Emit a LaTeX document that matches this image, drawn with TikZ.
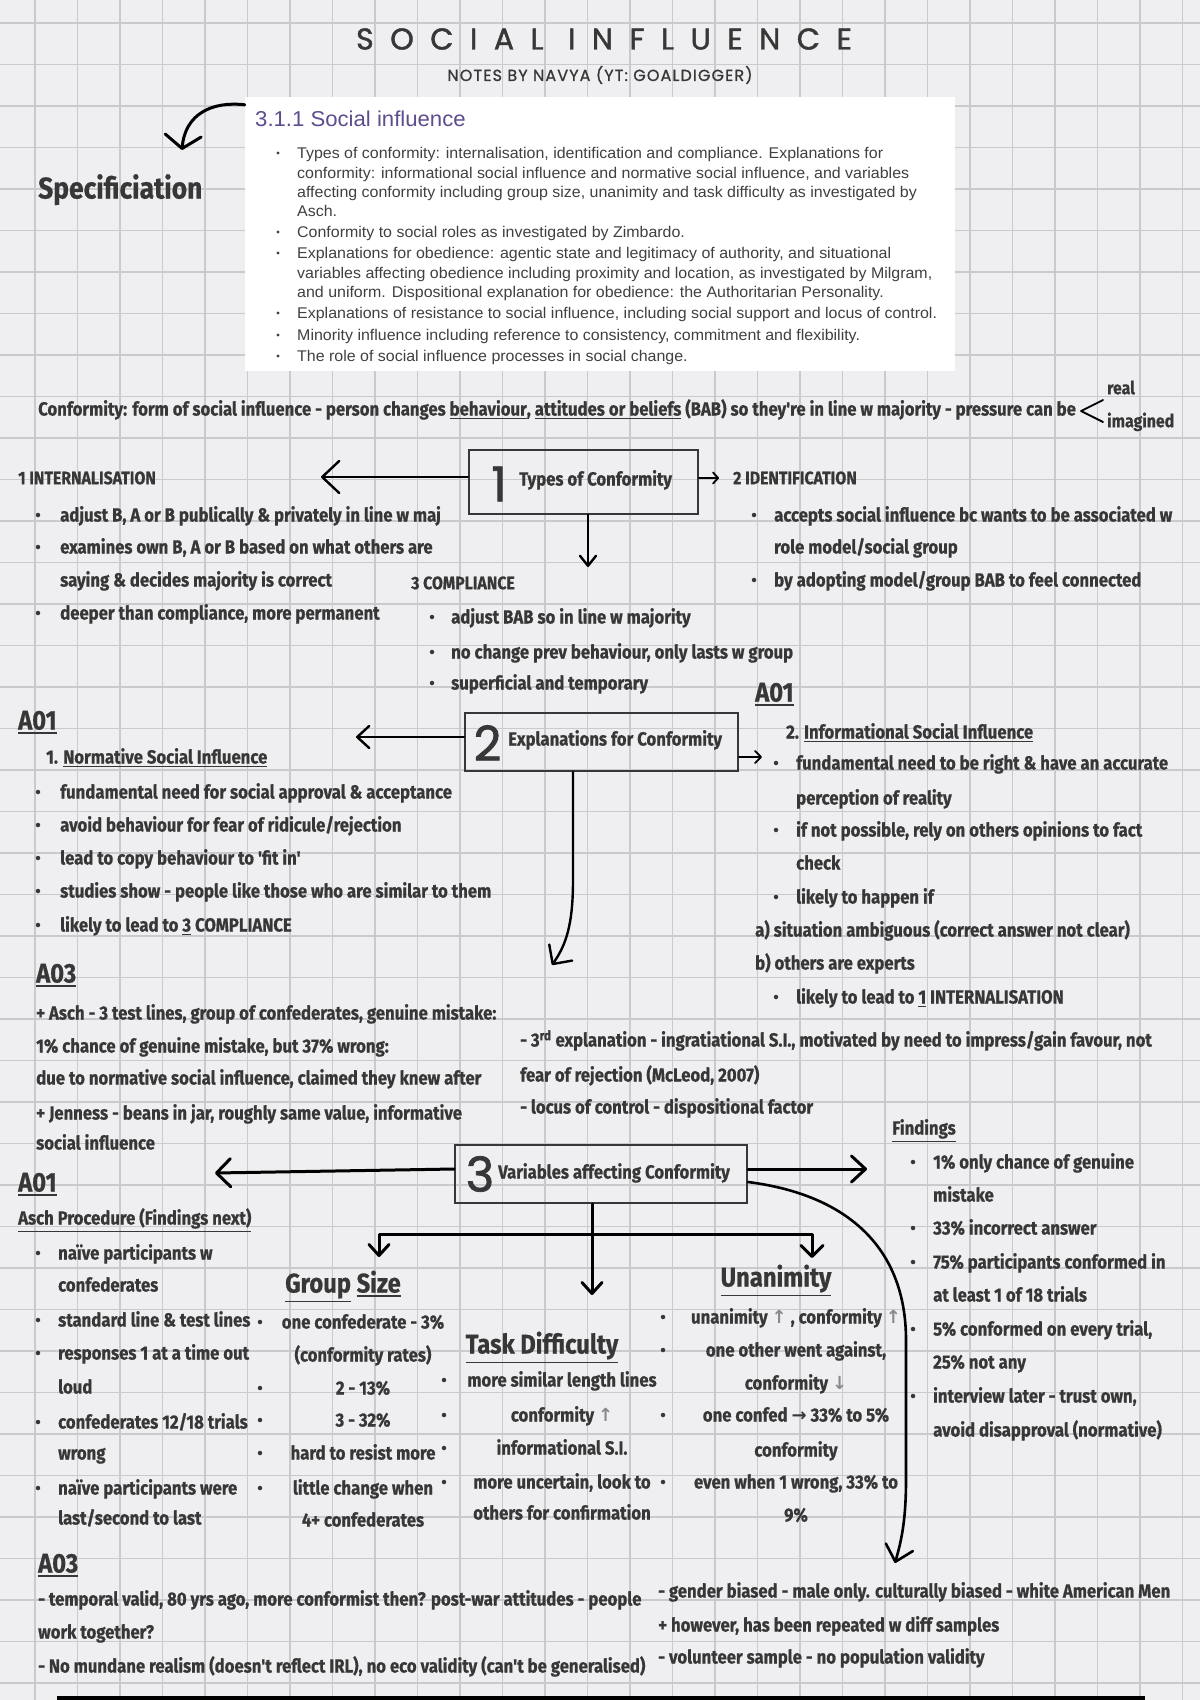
\documentclass[tikz,border=0pt]{standalone}
\usepackage{fontspec}
\usetikzlibrary{
    positioning,
    arrows.meta
}

\newfontfamily\hand[FakeStretch=0.88, FakeBold=0.6]{Fira Sans}
\newfontfamily\titlefont[LetterSpace=55, FakeBold=1.4]{Poppins}
\newfontfamily\subfont[LetterSpace=7, FakeBold=1]{Poppins}
\newfontfamily\numfont[FakeBold=1.6]{Poppins}
\newfontfamily\specfont[FakeStretch=1.03]{Liberation Sans}
\newfontfamily\symfont{DejaVu Sans}

\definecolor{paper}{HTML}{EFEFF1}
\definecolor{gridc}{HTML}{C9C9CE}
\definecolor{ink}{HTML}{373737}
\definecolor{spectext}{HTML}{404040}
\definecolor{specpurple}{HTML}{5E4C8E}
\definecolor{arrowgray}{HTML}{8A8A8A}

\newcommand\uln[1]{\vtop{\hbox{#1}\kern2pt\hrule height 1.6pt}}
\newcommand\uparr{{\symfont\fontsize{18}{18}\selectfont\textcolor{arrowgray}{↑}}}
\newcommand\dnarr{{\symfont\fontsize{18}{18}\selectfont\textcolor{arrowgray}{↓}}}
\newcommand\rtarr{{\symfont\fontsize{18}{18}\selectfont →}}

\tikzset{
    gridline/.style={draw=gridc, line width=1.4pt},
    txt/.style={text=ink, inner sep=0pt, anchor=base west},
    hand/.style={txt, font=\hand\bfseries\fontsize{19}{19}\selectfont, yshift=-6.5pt},
    handc/.style={hand, anchor=base},
    handsm/.style={txt, font=\hand\bfseries\fontsize{18}{18}\selectfont, yshift=-6.2pt},
    aohead/.style={txt, font=\hand\bfseries\fontsize{27}{27}\selectfont, yshift=-9.5pt},
    headhand/.style={txt, anchor=base, font=\hand\bfseries\fontsize{27}{27}\selectfont, yshift=-9.5pt},
    dot/.style={circle, fill=ink, inner sep=0pt, minimum size=4.5pt},
    spec/.style={
        font=\specfont\fontsize{15.5}{15.5}\selectfont,
        text=spectext, inner sep=0pt, anchor=base west, yshift=-5.3pt
    },
    specdot/.style={circle, fill=spectext, inner sep=0pt, minimum size=3.2pt},
    typebox/.style={draw=ink, line width=2pt, inner sep=0pt},
    bignum/.style={font=\numfont\fontsize{48}{48}\selectfont, text=ink, inner sep=0pt},
    conn/.style={draw=black, line width=2.4pt, line cap=round, line join=round}
}

\begin{document}
\begin{tikzpicture}[
    x=1pt, y=-1pt
]

    % Papel cuadriculado
    \useasboundingbox (0,0) rectangle (1200,1700);
    \fill[paper] (0,0) rectangle (1200,1700);
    \foreach \i in {0,...,27}
        \draw[gridline] ({35+42.5*\i},0) -- ++(0,1700);
    \foreach \j in {0,...,40}
        \draw[gridline] (0,{23+41.5*\j}) -- ++(1200,0);

    % Titulo
    \node[font=\titlefont\fontsize{30}{30}\selectfont, text=ink] (title) at (604,39) {SOCIAL INFLUENCE};
    \node[font=\subfont\fontsize{16}{16}\selectfont, text=ink] (subtitle) at (600,75) {NOTES BY NAVYA (YT: GOALDIGGER)};

    % Especificacion
    \node[fill=white, minimum width=710pt, minimum height=274pt, inner sep=0pt] (specbox) at (600,234) {};
    \node[txt, font=\specfont\fontsize{21.5}{21.5}\selectfont, text=specpurple, yshift=-7.5pt] (spechead) at (255,119) {3.1.1 Social influence};
    \foreach \y/\bu/\txt [count=\i] in {
        153/1/{Types of conformity: internalisation, identification and compliance. Explanations for},
        173/0/{conformity: informational social influence and normative social influence, and variables},
        192/0/{affecting conformity including group size, unanimity and task difficulty as investigated by},
        211/0/{Asch.},
        232/1/{Conformity to social roles as investigated by Zimbardo.},
        253/1/{Explanations for obedience: agentic state and legitimacy of authority, and situational},
        273/0/{variables affecting obedience including proximity and location, as investigated by Milgram,},
        292/0/{and uniform. Dispositional explanation for obedience: the Authoritarian Personality.},
        313/1/{Explanations of resistance to social influence, including social support and locus of control.},
        335/1/{Minority influence including reference to consistency, commitment and flexibility.},
        356/1/{The role of social influence processes in social change.}
    }{
        \node[spec] (spec-\i) at (297,\y) {\txt};
        \ifnum\bu=1 \node[specdot] (spec-dot-\i) at (278,\y) {}; \fi
    }

    \node[txt, font=\hand\bfseries\fontsize{30}{30}\selectfont, yshift=-10.5pt] (specword) at (38,188) {Specificiation};
    \coordinate (spec-tip) at (182,150);
    \draw[conn, line width=3pt, -{Straight Barb[length=13pt, width=36pt, round]}]
        ([yshift=-8pt]specbox.north west) .. controls (212,101) and (185,114) .. (spec-tip);

    % Definicion
    \node[hand] (conf) at (38,409) {Conformity: form of social influence - person changes \uln{behaviour}, \uln{attitudes or beliefs} (BAB) so they're in line w majority - pressure can be};
    \draw[conn, line width=1.8pt] (1103,400) -- (1081,411) -- (1103,422);
    \node[handsm] (real) at (1107,388) {real};
    \node[handsm] (imag) at (1107,421) {imagined};

    % 1 Tipos de conformidad
    \node[typebox, minimum width=229pt, minimum height=64pt] (box1) at (583.5,482) {};
    \node[bignum] (num1) at (499,484) {1};
    \node[hand] (lab1) at (519,479) {Types of Conformity};
    \coordinate (t1-left) at (321,477);
    \coordinate (t1-right) at (719,478);
    \coordinate (t1-down) at (588,567);
    \draw[conn, -{Straight Barb[length=17pt, width=32pt, round]}] ([yshift=5pt]box1.west) -- (t1-left);
    \draw[conn, line width=1.8pt, -{Straight Barb[length=5pt, width=11pt, round]}] ([yshift=4pt]box1.east) -- (t1-right);
    \draw[conn, -{Straight Barb[length=10pt, width=16pt, round]}] (box1.south -| t1-down) -- (t1-down);

    \node[handsm] (intl) at (18,478) {1 INTERNALISATION};
    \foreach \y/\bu/\txt [count=\i] in {
        515/1/{adjust B, A or B publically \& privately in line w maj},
        547/1/{examines own B, A or B based on what others are},
        580/0/{saying \& decides majority is correct},
        613/1/{deeper than compliance, more permanent}
    }{
        \node[hand] (intl-\i) at (60,\y) {\txt};
        \ifnum\bu=1 \node[dot] (intl-dot-\i) at (38,\y) {}; \fi
    }

    \node[handsm] (ident) at (733,478) {2 IDENTIFICATION};
    \foreach \y/\bu/\txt [count=\i] in {
        515/1/{accepts social influence bc wants to be associated w},
        547/0/{role model/social group},
        580/1/{by adopting model/group BAB to feel connected}
    }{
        \node[hand] (ident-\i) at (774,\y) {\txt};
        \ifnum\bu=1 \node[dot] (ident-dot-\i) at (754,\y) {}; \fi
    }

    \node[handsm] (compl) at (411,583) {3 COMPLIANCE};
    \foreach \y/\txt [count=\i] in {
        617/{adjust BAB so in line w majority},
        652/{no change prev behaviour, only lasts w group},
        683/{superficial and temporary}
    }{
        \node[hand] (compl-\i) at (451,\y) {\txt};
        \node[dot] (compl-dot-\i) at (432,\y) {};
    }

    % 2 Explicaciones
    \node[typebox, minimum width=273pt, minimum height=58pt] (box2) at (601.5,742) {};
    \node[bignum] (num2) at (487.5,743) {2};
    \node[hand] (lab2) at (508,739) {Explanations for Conformity};
    \coordinate (t2-left) at (356,737);
    \coordinate (t2-right) at (762,757);
    \coordinate (t2-bend) at (573,880);
    \coordinate (t2-down) at (552,965);
    \draw[conn, -{Straight Barb[length=12pt, width=22pt, round]}] ([yshift=5pt]box2.west) -- (t2-left);
    \draw[conn, line width=1.8pt, -{Straight Barb[length=6pt, width=12pt, round]}] ([yshift=-15pt]box2.east) -- (t2-right);
    \draw[conn, -{Straight Barb[length=14pt, width=28pt, round]}]
        (box2.south -| t2-bend) -- (t2-bend) .. controls (573,925) and (566,945) .. (t2-down);

    \node[aohead] (ao1-norm) at (18,720) {\uln{A01}};
    \node[hand] (norm) at (46,757) {1. \uln{Normative Social Influence}};
    \foreach \y/\txt [count=\i] in {
        792/{fundamental need for social approval \& acceptance},
        825/{avoid behaviour for fear of ridicule/rejection},
        858/{lead to copy behaviour to 'fit in'},
        891/{studies show - people like those who are similar to them},
        925/{likely to lead to \uln{3} COMPLIANCE}
    }{
        \node[hand] (norm-\i) at (60,\y) {\txt};
        \node[dot] (norm-dot-\i) at (38,\y) {};
    }

    \node[aohead] (ao3-norm) at (36,973) {\uln{A03}};
    \foreach \y/\txt [count=\i] in {
        1013/{+ Asch - 3 test lines, group of confederates, genuine mistake:},
        1046/{1\% chance of genuine mistake, but 37\% wrong:},
        1078/{due to normative social influence, claimed they knew after},
        1113/{+ Jenness - beans in jar, roughly same value, informative},
        1143/{social influence}
    }{
        \node[hand] (eval-\i) at (36,\y) {\txt};
    }

    \node[aohead] (ao1-info) at (755,692) {\uln{A01}};
    \node[hand] (info) at (786,732) {2. \uln{Informational Social Influence}};
    \foreach \y/\bu/\txt [count=\i] in {
        763/1/{fundamental need to be right \& have an accurate},
        798/0/{perception of reality},
        830/1/{if not possible, rely on others opinions to fact},
        863/0/{check},
        897/1/{likely to happen if},
        997/1/{likely to lead to \uln{1} INTERNALISATION}
    }{
        \node[hand] (info-\i) at (796,\y) {\txt};
        \ifnum\bu=1 \node[dot] (info-dot-\i) at (776,\y) {}; \fi
    }
    \node[hand] (info-a) at (755,930) {a) situation ambiguous (correct answer not clear)};
    \node[hand] (info-b) at (755,963) {b) others are experts};

    \foreach \y/\txt [count=\i] in {
        1040/{- 3\textsuperscript{rd} explanation - ingratiational S.I., motivated by need to impress/gain favour, not},
        1075/{fear of rejection (McLeod, 2007)},
        1107/{- locus of control - dispositional factor}
    }{
        \node[hand] (extra-\i) at (520,\y) {\txt};
    }

    % 3 Variables
    \node[typebox, minimum width=292pt, minimum height=58pt] (box3) at (601,1174) {};
    \node[bignum] (num3) at (480,1174) {3};
    \node[hand] (lab3) at (498,1172) {Variables affecting Conformity};
    \coordinate (t3-left) at (215,1173);
    \coordinate (t3-right) at (867,1169);
    \coordinate (t3-down) at (592,1295);
    \coordinate (t3-split) at (592,1234);
    \coordinate (t3-gs) at (379,1257);
    \coordinate (t3-un) at (812,1258);
    \coordinate (t3-end) at (895,1563);
    \draw[conn, line width=3pt, -{Straight Barb[length=14pt, width=28pt, round]}] ([yshift=5pt]box3.west) -- (t3-left);
    \draw[conn, line width=3pt, -{Straight Barb[length=14pt, width=26pt, round]}] ([yshift=5pt]box3.east) -- (t3-right);
    \draw[conn, line width=3pt, -{Straight Barb[length=11pt, width=20pt, round]}] (box3.south -| t3-down) -- (t3-down);
    \draw[conn, line width=3pt, -{Straight Barb[length=11pt, width=20pt, round]}] (t3-split) -| (t3-gs);
    \draw[conn, line width=3pt, -{Straight Barb[length=11pt, width=22pt, round]}] (t3-split) -| (t3-un);
    \draw[conn, line width=2.6pt, -{Straight Barb[length=15pt, width=28pt, round]}]
        ([yshift=-8pt]box3.east) .. controls (850,1195) and (906,1250) .. (906,1340)
        -- (906,1480) .. controls (906,1525) and (900,1545) .. (t3-end);

    \node[aohead] (ao1-asch) at (18,1182) {\uln{A01}};
    \node[hand] (asch) at (18,1218) {\uln{Asch Procedure (Findings next)}};
    \foreach \y/\bu/\txt [count=\i] in {
        1253/1/{naïve participants w},
        1285/0/{confederates},
        1320/1/{standard line \& test lines},
        1353/1/{responses 1 at a time out},
        1387/0/{loud},
        1422/1/{confederates 12/18 trials},
        1453/0/{wrong},
        1488/1/{naïve participants were},
        1518/0/{last/second to last}
    }{
        \node[hand] (asch-\i) at (58,\y) {\txt};
        \ifnum\bu=1 \node[dot] (asch-dot-\i) at (38,\y) {}; \fi
    }

    \node[headhand] (gsize) at (343,1283) {\uln{Group} \uln{Size}};
    \foreach \y/\bu/\txt [count=\i] in {
        1322/1/{one confederate - 3\%},
        1355/0/{(conformity rates)},
        1388/1/{2 - 13\%},
        1420/1/{3 - 32\%},
        1453/1/{hard to resist more},
        1488/1/{little change when},
        1520/0/{4+ confederates}
    }{
        \node[handc] (gsize-\i) at (363,\y) {\txt};
        \ifnum\bu=1 \node[dot] (gsize-dot-\i) at (260,\y) {}; \fi
    }

    \node[headhand] (task) at (542,1344) {\uln{Task Difficulty}};
    \foreach \y/\bu/\txt [count=\i] in {
        1380/1/{more similar length lines},
        1415/1/{conformity \uparr},
        1448/1/{informational S.I.},
        1482/1/{more uncertain, look to},
        1513/0/{others for confirmation}
    }{
        \node[handc] (task-\i) at (562,\y) {\txt};
        \ifnum\bu=1 \node[dot] (task-dot-\i) at (444,\y) {}; \fi
    }

    \node[headhand] (unan) at (776,1277) {\uln{Unanimity}};
    \foreach \y/\bu/\txt [count=\i] in {
        1317/1/{unanimity \uparr\ , conformity \uparr},
        1350/1/{one other went against,},
        1383/0/{conformity \dnarr},
        1415/1/{one confed \rtarr\ 33\% to 5\%},
        1450/0/{conformity},
        1482/1/{even when 1 wrong, 33\% to},
        1515/0/{9\%}
    }{
        \node[handc] (unan-\i) at (796,\y) {\txt};
        \ifnum\bu=1 \node[dot] (unan-dot-\i) at (663,\y) {}; \fi
    }

    \node[hand] (find) at (892,1128) {\uln{Findings}};
    \foreach \y/\bu/\txt [count=\i] in {
        1162/1/{1\% only chance of genuine},
        1195/0/{mistake},
        1228/1/{33\% incorrect answer},
        1262/1/{75\% participants conformed in},
        1295/0/{at least 1 of 18 trials},
        1329/1/{5\% conformed on every trial,},
        1362/0/{25\% not any},
        1396/1/{interview later - trust own,},
        1430/0/{avoid disapproval (normative)}
    }{
        \node[hand] (find-\i) at (933,\y) {\txt};
        \ifnum\bu=1 \node[dot] (find-dot-\i) at (913,\y) {}; \fi
    }

    % Evaluacion final
    \node[aohead] (ao3-asch) at (38,1563) {\uln{A03}};
    \foreach \y/\txt [count=\i] in {
        1599/{- temporal valid, 80 yrs ago, more conformist then? post-war attitudes - people},
        1632/{work together?},
        1666/{- No mundane realism (doesn't reflect IRL), no eco validity (can't be generalised)}
    }{
        \node[hand] (crit-\i) at (38,\y) {\txt};
    }
    \foreach \y/\txt [count=\i] in {
        1591/{- gender biased - male only. culturally biased - white American Men},
        1625/{+ however, has been repeated w diff samples},
        1657/{- volunteer sample - no population validity}
    }{
        \node[hand] (samp-\i) at (658,\y) {\txt};
    }

    \fill[black] (57,1696) rectangle (1145,1700);

\end{tikzpicture}
\end{document}
